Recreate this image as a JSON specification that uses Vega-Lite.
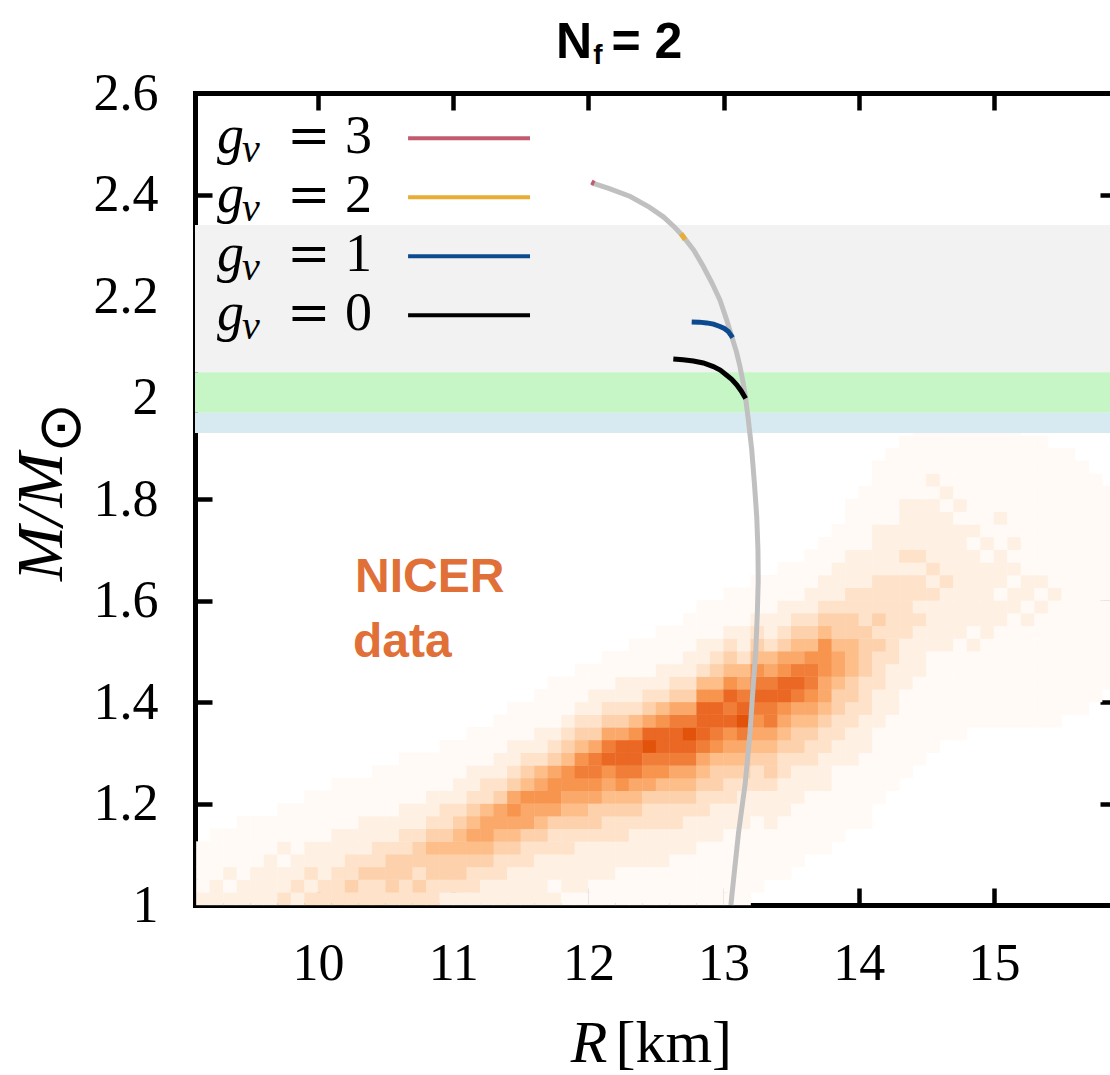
{
"$schema":"https://vega.github.io/schema/vega-lite/v6.json",
"width":915,"height":812,"autosize":"none",
"padding":{"left":195,"top":93,"right":0,"bottom":170},
"background":"white",
"config":{"view":{"stroke":null},"axis":{"grid":false,"zindex":1,"domainColor":"black","domainWidth":5,"domainCap":"square","tickColor":"black","tickWidth":4.5,"labelColor":"black","labelFont":"Liberation Serif","labelFontSize":52,"labelFlush":false,"labelOverlap":false,"labelBound":false}},
"datasets":{
"cells":[
{"r":9.1,"m":1,"d":2},{"r":9.1,"m":1.025,"d":1},{"r":9.1,"m":1.05,"d":1},{"r":9.1,"m":1.075,"d":1},{"r":9.1,"m":1.1,"d":1},
{"r":9.2,"m":1,"d":2},{"r":9.2,"m":1.025,"d":2},{"r":9.2,"m":1.05,"d":1},{"r":9.2,"m":1.075,"d":1},{"r":9.2,"m":1.1,"d":1},{"r":9.2,"m":1.125,"d":1},
{"r":9.3,"m":1,"d":2},{"r":9.3,"m":1.025,"d":1},{"r":9.3,"m":1.05,"d":2},{"r":9.3,"m":1.075,"d":1},{"r":9.3,"m":1.1,"d":1},{"r":9.3,"m":1.125,"d":1},
{"r":9.4,"m":1,"d":2},{"r":9.4,"m":1.025,"d":2},{"r":9.4,"m":1.05,"d":1},{"r":9.4,"m":1.075,"d":1},{"r":9.4,"m":1.1,"d":1},{"r":9.4,"m":1.125,"d":1},{"r":9.4,"m":1.15,"d":1},
{"r":9.5,"m":1,"d":2},{"r":9.5,"m":1.025,"d":2},{"r":9.5,"m":1.05,"d":2},{"r":9.5,"m":1.075,"d":1},{"r":9.5,"m":1.1,"d":1},{"r":9.5,"m":1.125,"d":1},{"r":9.5,"m":1.15,"d":1},
{"r":9.6,"m":1,"d":2},{"r":9.6,"m":1.025,"d":2},{"r":9.6,"m":1.05,"d":2},{"r":9.6,"m":1.075,"d":2},{"r":9.6,"m":1.1,"d":1},{"r":9.6,"m":1.125,"d":1},{"r":9.6,"m":1.15,"d":1},
{"r":9.7,"m":1,"d":3},{"r":9.7,"m":1.025,"d":2},{"r":9.7,"m":1.05,"d":2},{"r":9.7,"m":1.075,"d":1},{"r":9.7,"m":1.1,"d":2},{"r":9.7,"m":1.125,"d":1},{"r":9.7,"m":1.15,"d":1},{"r":9.7,"m":1.175,"d":1},
{"r":9.8,"m":1,"d":2},{"r":9.8,"m":1.025,"d":3},{"r":9.8,"m":1.05,"d":2},{"r":9.8,"m":1.075,"d":2},{"r":9.8,"m":1.1,"d":1},{"r":9.8,"m":1.125,"d":1},{"r":9.8,"m":1.15,"d":1},{"r":9.8,"m":1.175,"d":1},
{"r":9.9,"m":1,"d":3},{"r":9.9,"m":1.025,"d":2},{"r":9.9,"m":1.05,"d":3},{"r":9.9,"m":1.075,"d":2},{"r":9.9,"m":1.1,"d":2},{"r":9.9,"m":1.125,"d":1},{"r":9.9,"m":1.15,"d":1},{"r":9.9,"m":1.175,"d":1},{"r":9.9,"m":1.2,"d":1},
{"r":10,"m":1,"d":3},{"r":10,"m":1.025,"d":3},{"r":10,"m":1.05,"d":2},{"r":10,"m":1.075,"d":2},{"r":10,"m":1.1,"d":2},{"r":10,"m":1.125,"d":1},{"r":10,"m":1.15,"d":1},{"r":10,"m":1.175,"d":1},{"r":10,"m":1.2,"d":1},
{"r":10.1,"m":1,"d":3},{"r":10.1,"m":1.025,"d":3},{"r":10.1,"m":1.05,"d":3},{"r":10.1,"m":1.075,"d":2},{"r":10.1,"m":1.1,"d":2},{"r":10.1,"m":1.125,"d":2},{"r":10.1,"m":1.15,"d":1},{"r":10.1,"m":1.175,"d":1},{"r":10.1,"m":1.2,"d":1},{"r":10.1,"m":1.225,"d":1},
{"r":10.2,"m":1,"d":3},{"r":10.2,"m":1.025,"d":4},{"r":10.2,"m":1.05,"d":3},{"r":10.2,"m":1.075,"d":3},{"r":10.2,"m":1.1,"d":2},{"r":10.2,"m":1.125,"d":2},{"r":10.2,"m":1.15,"d":1},{"r":10.2,"m":1.175,"d":1},{"r":10.2,"m":1.2,"d":1},{"r":10.2,"m":1.225,"d":1},
{"r":10.3,"m":1,"d":3},{"r":10.3,"m":1.025,"d":3},{"r":10.3,"m":1.05,"d":4},{"r":10.3,"m":1.075,"d":3},{"r":10.3,"m":1.1,"d":2},{"r":10.3,"m":1.125,"d":2},{"r":10.3,"m":1.15,"d":2},{"r":10.3,"m":1.175,"d":1},{"r":10.3,"m":1.2,"d":1},{"r":10.3,"m":1.225,"d":1},
{"r":10.4,"m":1,"d":3},{"r":10.4,"m":1.025,"d":3},{"r":10.4,"m":1.05,"d":4},{"r":10.4,"m":1.075,"d":3},{"r":10.4,"m":1.1,"d":3},{"r":10.4,"m":1.125,"d":2},{"r":10.4,"m":1.15,"d":2},{"r":10.4,"m":1.175,"d":1},{"r":10.4,"m":1.2,"d":1},{"r":10.4,"m":1.225,"d":1},{"r":10.4,"m":1.25,"d":1},
{"r":10.5,"m":1,"d":3},{"r":10.5,"m":1.025,"d":4},{"r":10.5,"m":1.05,"d":4},{"r":10.5,"m":1.075,"d":4},{"r":10.5,"m":1.1,"d":3},{"r":10.5,"m":1.125,"d":2},{"r":10.5,"m":1.15,"d":2},{"r":10.5,"m":1.175,"d":1},{"r":10.5,"m":1.2,"d":1},{"r":10.5,"m":1.225,"d":1},{"r":10.5,"m":1.25,"d":1},
{"r":10.6,"m":1,"d":3},{"r":10.6,"m":1.025,"d":3},{"r":10.6,"m":1.05,"d":4},{"r":10.6,"m":1.075,"d":4},{"r":10.6,"m":1.1,"d":3},{"r":10.6,"m":1.125,"d":3},{"r":10.6,"m":1.15,"d":2},{"r":10.6,"m":1.175,"d":2},{"r":10.6,"m":1.2,"d":1},{"r":10.6,"m":1.225,"d":1},{"r":10.6,"m":1.25,"d":1},{"r":10.6,"m":1.275,"d":1},
{"r":10.7,"m":1,"d":3},{"r":10.7,"m":1.025,"d":4},{"r":10.7,"m":1.05,"d":3},{"r":10.7,"m":1.075,"d":4},{"r":10.7,"m":1.1,"d":4},{"r":10.7,"m":1.125,"d":3},{"r":10.7,"m":1.15,"d":2},{"r":10.7,"m":1.175,"d":2},{"r":10.7,"m":1.2,"d":1},{"r":10.7,"m":1.225,"d":1},{"r":10.7,"m":1.25,"d":1},{"r":10.7,"m":1.275,"d":1},
{"r":10.8,"m":1,"d":3},{"r":10.8,"m":1.025,"d":3},{"r":10.8,"m":1.05,"d":4},{"r":10.8,"m":1.075,"d":4},{"r":10.8,"m":1.1,"d":5},{"r":10.8,"m":1.125,"d":4},{"r":10.8,"m":1.15,"d":3},{"r":10.8,"m":1.175,"d":2},{"r":10.8,"m":1.2,"d":2},{"r":10.8,"m":1.225,"d":1},{"r":10.8,"m":1.25,"d":1},{"r":10.8,"m":1.275,"d":1},
{"r":10.9,"m":1,"d":2},{"r":10.9,"m":1.025,"d":3},{"r":10.9,"m":1.05,"d":4},{"r":10.9,"m":1.075,"d":4},{"r":10.9,"m":1.1,"d":5},{"r":10.9,"m":1.125,"d":4},{"r":10.9,"m":1.15,"d":3},{"r":10.9,"m":1.175,"d":3},{"r":10.9,"m":1.2,"d":2},{"r":10.9,"m":1.225,"d":1},{"r":10.9,"m":1.25,"d":1},{"r":10.9,"m":1.275,"d":1},{"r":10.9,"m":1.3,"d":1},
{"r":11,"m":1,"d":2},{"r":11,"m":1.025,"d":3},{"r":11,"m":1.05,"d":4},{"r":11,"m":1.075,"d":4},{"r":11,"m":1.1,"d":5},{"r":11,"m":1.125,"d":5},{"r":11,"m":1.15,"d":4},{"r":11,"m":1.175,"d":3},{"r":11,"m":1.2,"d":2},{"r":11,"m":1.225,"d":2},{"r":11,"m":1.25,"d":1},{"r":11,"m":1.275,"d":1},{"r":11,"m":1.3,"d":1},
{"r":11.1,"m":1,"d":2},{"r":11.1,"m":1.025,"d":3},{"r":11.1,"m":1.05,"d":3},{"r":11.1,"m":1.075,"d":4},{"r":11.1,"m":1.1,"d":5},{"r":11.1,"m":1.125,"d":6},{"r":11.1,"m":1.15,"d":5},{"r":11.1,"m":1.175,"d":4},{"r":11.1,"m":1.2,"d":3},{"r":11.1,"m":1.225,"d":2},{"r":11.1,"m":1.25,"d":2},{"r":11.1,"m":1.275,"d":1},{"r":11.1,"m":1.3,"d":1},{"r":11.1,"m":1.325,"d":1},
{"r":11.2,"m":1,"d":2},{"r":11.2,"m":1.025,"d":2},{"r":11.2,"m":1.05,"d":3},{"r":11.2,"m":1.075,"d":4},{"r":11.2,"m":1.1,"d":5},{"r":11.2,"m":1.125,"d":6},{"r":11.2,"m":1.15,"d":6},{"r":11.2,"m":1.175,"d":5},{"r":11.2,"m":1.2,"d":3},{"r":11.2,"m":1.225,"d":3},{"r":11.2,"m":1.25,"d":2},{"r":11.2,"m":1.275,"d":1},{"r":11.2,"m":1.3,"d":1},{"r":11.2,"m":1.325,"d":1},
{"r":11.3,"m":1,"d":2},{"r":11.3,"m":1.025,"d":2},{"r":11.3,"m":1.05,"d":3},{"r":11.3,"m":1.075,"d":3},{"r":11.3,"m":1.1,"d":4},{"r":11.3,"m":1.125,"d":5},{"r":11.3,"m":1.15,"d":6},{"r":11.3,"m":1.175,"d":6},{"r":11.3,"m":1.2,"d":4},{"r":11.3,"m":1.225,"d":3},{"r":11.3,"m":1.25,"d":2},{"r":11.3,"m":1.275,"d":2},{"r":11.3,"m":1.3,"d":1},{"r":11.3,"m":1.325,"d":1},{"r":11.3,"m":1.35,"d":1},
{"r":11.4,"m":1,"d":2},{"r":11.4,"m":1.025,"d":2},{"r":11.4,"m":1.05,"d":2},{"r":11.4,"m":1.075,"d":3},{"r":11.4,"m":1.1,"d":4},{"r":11.4,"m":1.125,"d":5},{"r":11.4,"m":1.15,"d":6},{"r":11.4,"m":1.175,"d":7},{"r":11.4,"m":1.2,"d":6},{"r":11.4,"m":1.225,"d":4},{"r":11.4,"m":1.25,"d":3},{"r":11.4,"m":1.275,"d":2},{"r":11.4,"m":1.3,"d":2},{"r":11.4,"m":1.325,"d":1},{"r":11.4,"m":1.35,"d":1},{"r":11.4,"m":1.375,"d":1},
{"r":11.5,"m":1,"d":2},{"r":11.5,"m":1.025,"d":2},{"r":11.5,"m":1.05,"d":2},{"r":11.5,"m":1.075,"d":3},{"r":11.5,"m":1.1,"d":3},{"r":11.5,"m":1.125,"d":4},{"r":11.5,"m":1.15,"d":6},{"r":11.5,"m":1.175,"d":6},{"r":11.5,"m":1.2,"d":7},{"r":11.5,"m":1.225,"d":5},{"r":11.5,"m":1.25,"d":4},{"r":11.5,"m":1.275,"d":3},{"r":11.5,"m":1.3,"d":2},{"r":11.5,"m":1.325,"d":1},{"r":11.5,"m":1.35,"d":1},{"r":11.5,"m":1.375,"d":1},
{"r":11.6,"m":1,"d":2},{"r":11.6,"m":1.025,"d":2},{"r":11.6,"m":1.05,"d":2},{"r":11.6,"m":1.075,"d":2},{"r":11.6,"m":1.1,"d":3},{"r":11.6,"m":1.125,"d":4},{"r":11.6,"m":1.15,"d":5},{"r":11.6,"m":1.175,"d":6},{"r":11.6,"m":1.2,"d":7},{"r":11.6,"m":1.225,"d":6},{"r":11.6,"m":1.25,"d":5},{"r":11.6,"m":1.275,"d":3},{"r":11.6,"m":1.3,"d":2},{"r":11.6,"m":1.325,"d":2},{"r":11.6,"m":1.35,"d":1},{"r":11.6,"m":1.375,"d":1},{"r":11.6,"m":1.4,"d":1},
{"r":11.7,"m":1,"d":2},{"r":11.7,"m":1.025,"d":1},{"r":11.7,"m":1.05,"d":2},{"r":11.7,"m":1.075,"d":2},{"r":11.7,"m":1.1,"d":3},{"r":11.7,"m":1.125,"d":3},{"r":11.7,"m":1.15,"d":4},{"r":11.7,"m":1.175,"d":6},{"r":11.7,"m":1.2,"d":7},{"r":11.7,"m":1.225,"d":7},{"r":11.7,"m":1.25,"d":6},{"r":11.7,"m":1.275,"d":4},{"r":11.7,"m":1.3,"d":3},{"r":11.7,"m":1.325,"d":2},{"r":11.7,"m":1.35,"d":1},{"r":11.7,"m":1.375,"d":1},{"r":11.7,"m":1.4,"d":1},{"r":11.7,"m":1.425,"d":1},
{"r":11.8,"m":1,"d":1},{"r":11.8,"m":1.025,"d":2},{"r":11.8,"m":1.05,"d":2},{"r":11.8,"m":1.075,"d":2},{"r":11.8,"m":1.1,"d":3},{"r":11.8,"m":1.125,"d":3},{"r":11.8,"m":1.15,"d":4},{"r":11.8,"m":1.175,"d":5},{"r":11.8,"m":1.2,"d":6},{"r":11.8,"m":1.225,"d":7},{"r":11.8,"m":1.25,"d":7},{"r":11.8,"m":1.275,"d":5},{"r":11.8,"m":1.3,"d":4},{"r":11.8,"m":1.325,"d":3},{"r":11.8,"m":1.35,"d":2},{"r":11.8,"m":1.375,"d":1},{"r":11.8,"m":1.4,"d":1},{"r":11.8,"m":1.425,"d":1},
{"r":11.9,"m":1,"d":1},{"r":11.9,"m":1.025,"d":2},{"r":11.9,"m":1.05,"d":2},{"r":11.9,"m":1.075,"d":2},{"r":11.9,"m":1.1,"d":2},{"r":11.9,"m":1.125,"d":3},{"r":11.9,"m":1.15,"d":4},{"r":11.9,"m":1.175,"d":5},{"r":11.9,"m":1.2,"d":6},{"r":11.9,"m":1.225,"d":7},{"r":11.9,"m":1.25,"d":8},{"r":11.9,"m":1.275,"d":7},{"r":11.9,"m":1.3,"d":5},{"r":11.9,"m":1.325,"d":4},{"r":11.9,"m":1.35,"d":3},{"r":11.9,"m":1.375,"d":2},{"r":11.9,"m":1.4,"d":1},{"r":11.9,"m":1.425,"d":1},{"r":11.9,"m":1.45,"d":1},
{"r":12,"m":1,"d":1},{"r":12,"m":1.025,"d":1},{"r":12,"m":1.05,"d":2},{"r":12,"m":1.075,"d":2},{"r":12,"m":1.1,"d":2},{"r":12,"m":1.125,"d":3},{"r":12,"m":1.15,"d":4},{"r":12,"m":1.175,"d":4},{"r":12,"m":1.2,"d":6},{"r":12,"m":1.225,"d":7},{"r":12,"m":1.25,"d":8},{"r":12,"m":1.275,"d":8},{"r":12,"m":1.3,"d":6},{"r":12,"m":1.325,"d":4},{"r":12,"m":1.35,"d":3},{"r":12,"m":1.375,"d":2},{"r":12,"m":1.4,"d":2},{"r":12,"m":1.425,"d":1},{"r":12,"m":1.45,"d":1},
{"r":12.1,"m":1,"d":1},{"r":12.1,"m":1.025,"d":1},{"r":12.1,"m":1.05,"d":2},{"r":12.1,"m":1.075,"d":2},{"r":12.1,"m":1.1,"d":2},{"r":12.1,"m":1.125,"d":3},{"r":12.1,"m":1.15,"d":3},{"r":12.1,"m":1.175,"d":4},{"r":12.1,"m":1.2,"d":5},{"r":12.1,"m":1.225,"d":6},{"r":12.1,"m":1.25,"d":7},{"r":12.1,"m":1.275,"d":9},{"r":12.1,"m":1.3,"d":8},{"r":12.1,"m":1.325,"d":6},{"r":12.1,"m":1.35,"d":4},{"r":12.1,"m":1.375,"d":3},{"r":12.1,"m":1.4,"d":2},{"r":12.1,"m":1.425,"d":1},{"r":12.1,"m":1.45,"d":1},{"r":12.1,"m":1.475,"d":1},
{"r":12.2,"m":1,"d":1},{"r":12.2,"m":1.025,"d":1},{"r":12.2,"m":1.05,"d":1},{"r":12.2,"m":1.075,"d":2},{"r":12.2,"m":1.1,"d":2},{"r":12.2,"m":1.125,"d":3},{"r":12.2,"m":1.15,"d":3},{"r":12.2,"m":1.175,"d":4},{"r":12.2,"m":1.2,"d":5},{"r":12.2,"m":1.225,"d":7},{"r":12.2,"m":1.25,"d":8},{"r":12.2,"m":1.275,"d":9},{"r":12.2,"m":1.3,"d":9},{"r":12.2,"m":1.325,"d":6},{"r":12.2,"m":1.35,"d":4},{"r":12.2,"m":1.375,"d":3},{"r":12.2,"m":1.4,"d":2},{"r":12.2,"m":1.425,"d":2},{"r":12.2,"m":1.45,"d":1},{"r":12.2,"m":1.475,"d":1},
{"r":12.3,"m":1,"d":1},{"r":12.3,"m":1.025,"d":1},{"r":12.3,"m":1.05,"d":1},{"r":12.3,"m":1.075,"d":2},{"r":12.3,"m":1.1,"d":2},{"r":12.3,"m":1.125,"d":2},{"r":12.3,"m":1.15,"d":3},{"r":12.3,"m":1.175,"d":4},{"r":12.3,"m":1.2,"d":5},{"r":12.3,"m":1.225,"d":6},{"r":12.3,"m":1.25,"d":8},{"r":12.3,"m":1.275,"d":9},{"r":12.3,"m":1.3,"d":9},{"r":12.3,"m":1.325,"d":7},{"r":12.3,"m":1.35,"d":5},{"r":12.3,"m":1.375,"d":3},{"r":12.3,"m":1.4,"d":2},{"r":12.3,"m":1.425,"d":2},{"r":12.3,"m":1.45,"d":1},{"r":12.3,"m":1.475,"d":1},{"r":12.3,"m":1.5,"d":1},
{"r":12.4,"m":1,"d":1},{"r":12.4,"m":1.025,"d":1},{"r":12.4,"m":1.05,"d":1},{"r":12.4,"m":1.075,"d":2},{"r":12.4,"m":1.1,"d":2},{"r":12.4,"m":1.125,"d":2},{"r":12.4,"m":1.15,"d":3},{"r":12.4,"m":1.175,"d":3},{"r":12.4,"m":1.2,"d":4},{"r":12.4,"m":1.225,"d":6},{"r":12.4,"m":1.25,"d":7},{"r":12.4,"m":1.275,"d":8},{"r":12.4,"m":1.3,"d":10},{"r":12.4,"m":1.325,"d":9},{"r":12.4,"m":1.35,"d":6},{"r":12.4,"m":1.375,"d":4},{"r":12.4,"m":1.4,"d":3},{"r":12.4,"m":1.425,"d":2},{"r":12.4,"m":1.45,"d":1},{"r":12.4,"m":1.475,"d":1},{"r":12.4,"m":1.5,"d":1},
{"r":12.5,"m":1,"d":1},{"r":12.5,"m":1.025,"d":1},{"r":12.5,"m":1.05,"d":1},{"r":12.5,"m":1.075,"d":2},{"r":12.5,"m":1.1,"d":2},{"r":12.5,"m":1.125,"d":2},{"r":12.5,"m":1.15,"d":3},{"r":12.5,"m":1.175,"d":3},{"r":12.5,"m":1.2,"d":4},{"r":12.5,"m":1.225,"d":5},{"r":12.5,"m":1.25,"d":7},{"r":12.5,"m":1.275,"d":8},{"r":12.5,"m":1.3,"d":9},{"r":12.5,"m":1.325,"d":9},{"r":12.5,"m":1.35,"d":7},{"r":12.5,"m":1.375,"d":5},{"r":12.5,"m":1.4,"d":3},{"r":12.5,"m":1.425,"d":2},{"r":12.5,"m":1.45,"d":2},{"r":12.5,"m":1.475,"d":1},{"r":12.5,"m":1.5,"d":1},{"r":12.5,"m":1.525,"d":1},
{"r":12.6,"m":1,"d":1},{"r":12.6,"m":1.025,"d":1},{"r":12.6,"m":1.05,"d":1},{"r":12.6,"m":1.075,"d":1},{"r":12.6,"m":1.1,"d":2},{"r":12.6,"m":1.125,"d":2},{"r":12.6,"m":1.15,"d":3},{"r":12.6,"m":1.175,"d":3},{"r":12.6,"m":1.2,"d":4},{"r":12.6,"m":1.225,"d":5},{"r":12.6,"m":1.25,"d":6},{"r":12.6,"m":1.275,"d":8},{"r":12.6,"m":1.3,"d":9},{"r":12.6,"m":1.325,"d":9},{"r":12.6,"m":1.35,"d":8},{"r":12.6,"m":1.375,"d":6},{"r":12.6,"m":1.4,"d":4},{"r":12.6,"m":1.425,"d":3},{"r":12.6,"m":1.45,"d":2},{"r":12.6,"m":1.475,"d":1},{"r":12.6,"m":1.5,"d":1},{"r":12.6,"m":1.525,"d":1},
{"r":12.7,"m":1,"d":1},{"r":12.7,"m":1.025,"d":1},{"r":12.7,"m":1.05,"d":1},{"r":12.7,"m":1.075,"d":1},{"r":12.7,"m":1.1,"d":2},{"r":12.7,"m":1.125,"d":2},{"r":12.7,"m":1.15,"d":2},{"r":12.7,"m":1.175,"d":3},{"r":12.7,"m":1.2,"d":4},{"r":12.7,"m":1.225,"d":5},{"r":12.7,"m":1.25,"d":6},{"r":12.7,"m":1.275,"d":8},{"r":12.7,"m":1.3,"d":9},{"r":12.7,"m":1.325,"d":10},{"r":12.7,"m":1.35,"d":8},{"r":12.7,"m":1.375,"d":6},{"r":12.7,"m":1.4,"d":4},{"r":12.7,"m":1.425,"d":3},{"r":12.7,"m":1.45,"d":2},{"r":12.7,"m":1.475,"d":2},{"r":12.7,"m":1.5,"d":1},{"r":12.7,"m":1.525,"d":1},{"r":12.7,"m":1.55,"d":1},
{"r":12.8,"m":1,"d":1},{"r":12.8,"m":1.025,"d":1},{"r":12.8,"m":1.05,"d":1},{"r":12.8,"m":1.075,"d":1},{"r":12.8,"m":1.1,"d":1},{"r":12.8,"m":1.125,"d":2},{"r":12.8,"m":1.15,"d":2},{"r":12.8,"m":1.175,"d":3},{"r":12.8,"m":1.2,"d":3},{"r":12.8,"m":1.225,"d":4},{"r":12.8,"m":1.25,"d":5},{"r":12.8,"m":1.275,"d":6},{"r":12.8,"m":1.3,"d":8},{"r":12.8,"m":1.325,"d":9},{"r":12.8,"m":1.35,"d":9},{"r":12.8,"m":1.375,"d":9},{"r":12.8,"m":1.4,"d":7},{"r":12.8,"m":1.425,"d":5},{"r":12.8,"m":1.45,"d":3},{"r":12.8,"m":1.475,"d":2},{"r":12.8,"m":1.5,"d":2},{"r":12.8,"m":1.525,"d":1},{"r":12.8,"m":1.55,"d":1},{"r":12.8,"m":1.575,"d":1},
{"r":12.9,"m":1,"d":1},{"r":12.9,"m":1.025,"d":1},{"r":12.9,"m":1.05,"d":1},{"r":12.9,"m":1.075,"d":1},{"r":12.9,"m":1.1,"d":1},{"r":12.9,"m":1.125,"d":2},{"r":12.9,"m":1.15,"d":2},{"r":12.9,"m":1.175,"d":2},{"r":12.9,"m":1.2,"d":3},{"r":12.9,"m":1.225,"d":4},{"r":12.9,"m":1.25,"d":4},{"r":12.9,"m":1.275,"d":5},{"r":12.9,"m":1.3,"d":7},{"r":12.9,"m":1.325,"d":8},{"r":12.9,"m":1.35,"d":9},{"r":12.9,"m":1.375,"d":9},{"r":12.9,"m":1.4,"d":7},{"r":12.9,"m":1.425,"d":5},{"r":12.9,"m":1.45,"d":4},{"r":12.9,"m":1.475,"d":3},{"r":12.9,"m":1.5,"d":2},{"r":12.9,"m":1.525,"d":1},{"r":12.9,"m":1.55,"d":1},{"r":12.9,"m":1.575,"d":1},
{"r":13,"m":1,"d":1},{"r":13,"m":1.025,"d":1},{"r":13,"m":1.05,"d":1},{"r":13,"m":1.075,"d":1},{"r":13,"m":1.1,"d":1},{"r":13,"m":1.125,"d":1},{"r":13,"m":1.15,"d":2},{"r":13,"m":1.175,"d":2},{"r":13,"m":1.2,"d":3},{"r":13,"m":1.225,"d":3},{"r":13,"m":1.25,"d":4},{"r":13,"m":1.275,"d":5},{"r":13,"m":1.3,"d":6},{"r":13,"m":1.325,"d":7},{"r":13,"m":1.35,"d":9},{"r":13,"m":1.375,"d":8},{"r":13,"m":1.4,"d":9},{"r":13,"m":1.425,"d":7},{"r":13,"m":1.45,"d":5},{"r":13,"m":1.475,"d":4},{"r":13,"m":1.5,"d":3},{"r":13,"m":1.525,"d":2},{"r":13,"m":1.55,"d":1},{"r":13,"m":1.575,"d":1},{"r":13,"m":1.6,"d":1},
{"r":13.1,"m":1,"d":1},{"r":13.1,"m":1.025,"d":1},{"r":13.1,"m":1.05,"d":1},{"r":13.1,"m":1.075,"d":1},{"r":13.1,"m":1.1,"d":1},{"r":13.1,"m":1.125,"d":1},{"r":13.1,"m":1.15,"d":2},{"r":13.1,"m":1.175,"d":2},{"r":13.1,"m":1.2,"d":2},{"r":13.1,"m":1.225,"d":3},{"r":13.1,"m":1.25,"d":4},{"r":13.1,"m":1.275,"d":5},{"r":13.1,"m":1.3,"d":6},{"r":13.1,"m":1.325,"d":8},{"r":13.1,"m":1.35,"d":10},{"r":13.1,"m":1.375,"d":9},{"r":13.1,"m":1.4,"d":8},{"r":13.1,"m":1.425,"d":6},{"r":13.1,"m":1.45,"d":5},{"r":13.1,"m":1.475,"d":3},{"r":13.1,"m":1.5,"d":2},{"r":13.1,"m":1.525,"d":2},{"r":13.1,"m":1.55,"d":1},{"r":13.1,"m":1.575,"d":1},{"r":13.1,"m":1.6,"d":1},
{"r":13.2,"m":1.025,"d":1},{"r":13.2,"m":1.05,"d":1},{"r":13.2,"m":1.075,"d":1},{"r":13.2,"m":1.1,"d":1},{"r":13.2,"m":1.125,"d":1},{"r":13.2,"m":1.15,"d":1},{"r":13.2,"m":1.175,"d":2},{"r":13.2,"m":1.2,"d":2},{"r":13.2,"m":1.225,"d":3},{"r":13.2,"m":1.25,"d":3},{"r":13.2,"m":1.275,"d":4},{"r":13.2,"m":1.3,"d":5},{"r":13.2,"m":1.325,"d":6},{"r":13.2,"m":1.35,"d":7},{"r":13.2,"m":1.375,"d":8},{"r":13.2,"m":1.4,"d":9},{"r":13.2,"m":1.425,"d":8},{"r":13.2,"m":1.45,"d":7},{"r":13.2,"m":1.475,"d":5},{"r":13.2,"m":1.5,"d":4},{"r":13.2,"m":1.525,"d":3},{"r":13.2,"m":1.55,"d":2},{"r":13.2,"m":1.575,"d":1},{"r":13.2,"m":1.6,"d":1},{"r":13.2,"m":1.625,"d":1},
{"r":13.3,"m":1.05,"d":1},{"r":13.3,"m":1.075,"d":1},{"r":13.3,"m":1.1,"d":1},{"r":13.3,"m":1.125,"d":1},{"r":13.3,"m":1.15,"d":2},{"r":13.3,"m":1.175,"d":2},{"r":13.3,"m":1.2,"d":2},{"r":13.3,"m":1.225,"d":3},{"r":13.3,"m":1.25,"d":4},{"r":13.3,"m":1.275,"d":4},{"r":13.3,"m":1.3,"d":5},{"r":13.3,"m":1.325,"d":6},{"r":13.3,"m":1.35,"d":8},{"r":13.3,"m":1.375,"d":8},{"r":13.3,"m":1.4,"d":9},{"r":13.3,"m":1.425,"d":8},{"r":13.3,"m":1.45,"d":6},{"r":13.3,"m":1.475,"d":5},{"r":13.3,"m":1.5,"d":3},{"r":13.3,"m":1.525,"d":2},{"r":13.3,"m":1.55,"d":2},{"r":13.3,"m":1.575,"d":1},{"r":13.3,"m":1.6,"d":1},{"r":13.3,"m":1.625,"d":1},
{"r":13.4,"m":1.05,"d":1},{"r":13.4,"m":1.075,"d":1},{"r":13.4,"m":1.1,"d":1},{"r":13.4,"m":1.125,"d":1},{"r":13.4,"m":1.15,"d":1},{"r":13.4,"m":1.175,"d":2},{"r":13.4,"m":1.2,"d":2},{"r":13.4,"m":1.225,"d":2},{"r":13.4,"m":1.25,"d":3},{"r":13.4,"m":1.275,"d":3},{"r":13.4,"m":1.3,"d":4},{"r":13.4,"m":1.325,"d":5},{"r":13.4,"m":1.35,"d":6},{"r":13.4,"m":1.375,"d":7},{"r":13.4,"m":1.4,"d":9},{"r":13.4,"m":1.425,"d":9},{"r":13.4,"m":1.45,"d":7},{"r":13.4,"m":1.475,"d":6},{"r":13.4,"m":1.5,"d":4},{"r":13.4,"m":1.525,"d":3},{"r":13.4,"m":1.55,"d":2},{"r":13.4,"m":1.575,"d":2},{"r":13.4,"m":1.6,"d":1},{"r":13.4,"m":1.625,"d":1},{"r":13.4,"m":1.65,"d":1},
{"r":13.5,"m":1.075,"d":1},{"r":13.5,"m":1.1,"d":1},{"r":13.5,"m":1.125,"d":1},{"r":13.5,"m":1.15,"d":1},{"r":13.5,"m":1.175,"d":1},{"r":13.5,"m":1.2,"d":2},{"r":13.5,"m":1.225,"d":2},{"r":13.5,"m":1.25,"d":2},{"r":13.5,"m":1.275,"d":3},{"r":13.5,"m":1.3,"d":4},{"r":13.5,"m":1.325,"d":4},{"r":13.5,"m":1.35,"d":5},{"r":13.5,"m":1.375,"d":6},{"r":13.5,"m":1.4,"d":8},{"r":13.5,"m":1.425,"d":9},{"r":13.5,"m":1.45,"d":8},{"r":13.5,"m":1.475,"d":6},{"r":13.5,"m":1.5,"d":5},{"r":13.5,"m":1.525,"d":4},{"r":13.5,"m":1.55,"d":3},{"r":13.5,"m":1.575,"d":2},{"r":13.5,"m":1.6,"d":1},{"r":13.5,"m":1.625,"d":1},{"r":13.5,"m":1.65,"d":1},
{"r":13.6,"m":1.1,"d":1},{"r":13.6,"m":1.125,"d":1},{"r":13.6,"m":1.15,"d":1},{"r":13.6,"m":1.175,"d":1},{"r":13.6,"m":1.2,"d":1},{"r":13.6,"m":1.225,"d":2},{"r":13.6,"m":1.25,"d":2},{"r":13.6,"m":1.275,"d":3},{"r":13.6,"m":1.3,"d":3},{"r":13.6,"m":1.325,"d":4},{"r":13.6,"m":1.35,"d":5},{"r":13.6,"m":1.375,"d":6},{"r":13.6,"m":1.4,"d":7},{"r":13.6,"m":1.425,"d":8},{"r":13.6,"m":1.45,"d":8},{"r":13.6,"m":1.475,"d":7},{"r":13.6,"m":1.5,"d":5},{"r":13.6,"m":1.525,"d":4},{"r":13.6,"m":1.55,"d":3},{"r":13.6,"m":1.575,"d":2},{"r":13.6,"m":1.6,"d":2},{"r":13.6,"m":1.625,"d":1},{"r":13.6,"m":1.65,"d":1},{"r":13.6,"m":1.675,"d":1},
{"r":13.7,"m":1.1,"d":1},{"r":13.7,"m":1.125,"d":1},{"r":13.7,"m":1.15,"d":1},{"r":13.7,"m":1.175,"d":1},{"r":13.7,"m":1.2,"d":1},{"r":13.7,"m":1.225,"d":2},{"r":13.7,"m":1.25,"d":2},{"r":13.7,"m":1.275,"d":2},{"r":13.7,"m":1.3,"d":3},{"r":13.7,"m":1.325,"d":3},{"r":13.7,"m":1.35,"d":4},{"r":13.7,"m":1.375,"d":5},{"r":13.7,"m":1.4,"d":6},{"r":13.7,"m":1.425,"d":6},{"r":13.7,"m":1.45,"d":7},{"r":13.7,"m":1.475,"d":7},{"r":13.7,"m":1.5,"d":7},{"r":13.7,"m":1.525,"d":5},{"r":13.7,"m":1.55,"d":4},{"r":13.7,"m":1.575,"d":3},{"r":13.7,"m":1.6,"d":2},{"r":13.7,"m":1.625,"d":2},{"r":13.7,"m":1.65,"d":1},{"r":13.7,"m":1.675,"d":1},{"r":13.7,"m":1.7,"d":1},
{"r":13.8,"m":1.125,"d":1},{"r":13.8,"m":1.15,"d":1},{"r":13.8,"m":1.175,"d":1},{"r":13.8,"m":1.2,"d":1},{"r":13.8,"m":1.225,"d":1},{"r":13.8,"m":1.25,"d":1},{"r":13.8,"m":1.275,"d":2},{"r":13.8,"m":1.3,"d":2},{"r":13.8,"m":1.325,"d":3},{"r":13.8,"m":1.35,"d":3},{"r":13.8,"m":1.375,"d":4},{"r":13.8,"m":1.4,"d":4},{"r":13.8,"m":1.425,"d":5},{"r":13.8,"m":1.45,"d":6},{"r":13.8,"m":1.475,"d":6},{"r":13.8,"m":1.5,"d":5},{"r":13.8,"m":1.525,"d":4},{"r":13.8,"m":1.55,"d":4},{"r":13.8,"m":1.575,"d":3},{"r":13.8,"m":1.6,"d":2},{"r":13.8,"m":1.625,"d":2},{"r":13.8,"m":1.65,"d":2},{"r":13.8,"m":1.675,"d":1},{"r":13.8,"m":1.7,"d":1},{"r":13.8,"m":1.725,"d":1},
{"r":13.9,"m":1.15,"d":1},{"r":13.9,"m":1.175,"d":1},{"r":13.9,"m":1.2,"d":1},{"r":13.9,"m":1.225,"d":1},{"r":13.9,"m":1.25,"d":1},{"r":13.9,"m":1.275,"d":2},{"r":13.9,"m":1.3,"d":2},{"r":13.9,"m":1.325,"d":2},{"r":13.9,"m":1.35,"d":3},{"r":13.9,"m":1.375,"d":3},{"r":13.9,"m":1.4,"d":4},{"r":13.9,"m":1.425,"d":4},{"r":13.9,"m":1.45,"d":5},{"r":13.9,"m":1.475,"d":5},{"r":13.9,"m":1.5,"d":5},{"r":13.9,"m":1.525,"d":4},{"r":13.9,"m":1.55,"d":4},{"r":13.9,"m":1.575,"d":3},{"r":13.9,"m":1.6,"d":3},{"r":13.9,"m":1.625,"d":2},{"r":13.9,"m":1.65,"d":2},{"r":13.9,"m":1.675,"d":2},{"r":13.9,"m":1.7,"d":1},{"r":13.9,"m":1.725,"d":1},{"r":13.9,"m":1.75,"d":1},{"r":13.9,"m":1.775,"d":1},
{"r":14,"m":1.15,"d":1},{"r":14,"m":1.175,"d":1},{"r":14,"m":1.2,"d":1},{"r":14,"m":1.225,"d":1},{"r":14,"m":1.25,"d":1},{"r":14,"m":1.275,"d":1},{"r":14,"m":1.3,"d":2},{"r":14,"m":1.325,"d":2},{"r":14,"m":1.35,"d":2},{"r":14,"m":1.375,"d":3},{"r":14,"m":1.4,"d":3},{"r":14,"m":1.425,"d":3},{"r":14,"m":1.45,"d":4},{"r":14,"m":1.475,"d":4},{"r":14,"m":1.5,"d":4},{"r":14,"m":1.525,"d":4},{"r":14,"m":1.55,"d":3},{"r":14,"m":1.575,"d":3},{"r":14,"m":1.6,"d":3},{"r":14,"m":1.625,"d":2},{"r":14,"m":1.65,"d":2},{"r":14,"m":1.675,"d":2},{"r":14,"m":1.7,"d":1},{"r":14,"m":1.725,"d":1},{"r":14,"m":1.75,"d":1},{"r":14,"m":1.775,"d":1},{"r":14,"m":1.8,"d":1},
{"r":14.1,"m":1.2,"d":1},{"r":14.1,"m":1.225,"d":1},{"r":14.1,"m":1.25,"d":1},{"r":14.1,"m":1.275,"d":1},{"r":14.1,"m":1.3,"d":1},{"r":14.1,"m":1.325,"d":1},{"r":14.1,"m":1.35,"d":2},{"r":14.1,"m":1.375,"d":2},{"r":14.1,"m":1.4,"d":2},{"r":14.1,"m":1.425,"d":3},{"r":14.1,"m":1.45,"d":3},{"r":14.1,"m":1.475,"d":3},{"r":14.1,"m":1.5,"d":4},{"r":14.1,"m":1.525,"d":3},{"r":14.1,"m":1.55,"d":4},{"r":14.1,"m":1.575,"d":3},{"r":14.1,"m":1.6,"d":3},{"r":14.1,"m":1.625,"d":3},{"r":14.1,"m":1.65,"d":2},{"r":14.1,"m":1.675,"d":2},{"r":14.1,"m":1.7,"d":2},{"r":14.1,"m":1.725,"d":2},{"r":14.1,"m":1.75,"d":1},{"r":14.1,"m":1.775,"d":1},{"r":14.1,"m":1.8,"d":1},{"r":14.1,"m":1.825,"d":1},{"r":14.1,"m":1.85,"d":1},
{"r":14.2,"m":1.225,"d":1},{"r":14.2,"m":1.25,"d":1},{"r":14.2,"m":1.275,"d":1},{"r":14.2,"m":1.3,"d":1},{"r":14.2,"m":1.325,"d":1},{"r":14.2,"m":1.35,"d":1},{"r":14.2,"m":1.375,"d":2},{"r":14.2,"m":1.4,"d":2},{"r":14.2,"m":1.425,"d":2},{"r":14.2,"m":1.45,"d":2},{"r":14.2,"m":1.475,"d":3},{"r":14.2,"m":1.5,"d":3},{"r":14.2,"m":1.525,"d":3},{"r":14.2,"m":1.55,"d":3},{"r":14.2,"m":1.575,"d":3},{"r":14.2,"m":1.6,"d":3},{"r":14.2,"m":1.625,"d":3},{"r":14.2,"m":1.65,"d":2},{"r":14.2,"m":1.675,"d":2},{"r":14.2,"m":1.7,"d":2},{"r":14.2,"m":1.725,"d":2},{"r":14.2,"m":1.75,"d":1},{"r":14.2,"m":1.775,"d":1},{"r":14.2,"m":1.8,"d":1},{"r":14.2,"m":1.825,"d":1},{"r":14.2,"m":1.85,"d":1},{"r":14.2,"m":1.875,"d":1},
{"r":14.3,"m":1.25,"d":1},{"r":14.3,"m":1.275,"d":1},{"r":14.3,"m":1.3,"d":1},{"r":14.3,"m":1.325,"d":1},{"r":14.3,"m":1.35,"d":1},{"r":14.3,"m":1.375,"d":1},{"r":14.3,"m":1.4,"d":1},{"r":14.3,"m":1.425,"d":2},{"r":14.3,"m":1.45,"d":2},{"r":14.3,"m":1.475,"d":2},{"r":14.3,"m":1.5,"d":2},{"r":14.3,"m":1.525,"d":3},{"r":14.3,"m":1.55,"d":3},{"r":14.3,"m":1.575,"d":3},{"r":14.3,"m":1.6,"d":3},{"r":14.3,"m":1.625,"d":3},{"r":14.3,"m":1.65,"d":2},{"r":14.3,"m":1.675,"d":3},{"r":14.3,"m":1.7,"d":2},{"r":14.3,"m":1.725,"d":2},{"r":14.3,"m":1.75,"d":2},{"r":14.3,"m":1.775,"d":2},{"r":14.3,"m":1.8,"d":1},{"r":14.3,"m":1.825,"d":1},{"r":14.3,"m":1.85,"d":1},{"r":14.3,"m":1.875,"d":1},{"r":14.3,"m":1.9,"d":1},
{"r":14.4,"m":1.275,"d":1},{"r":14.4,"m":1.3,"d":1},{"r":14.4,"m":1.325,"d":1},{"r":14.4,"m":1.35,"d":1},{"r":14.4,"m":1.375,"d":1},{"r":14.4,"m":1.4,"d":1},{"r":14.4,"m":1.425,"d":1},{"r":14.4,"m":1.45,"d":2},{"r":14.4,"m":1.475,"d":2},{"r":14.4,"m":1.5,"d":2},{"r":14.4,"m":1.525,"d":2},{"r":14.4,"m":1.55,"d":3},{"r":14.4,"m":1.575,"d":2},{"r":14.4,"m":1.6,"d":3},{"r":14.4,"m":1.625,"d":3},{"r":14.4,"m":1.65,"d":2},{"r":14.4,"m":1.675,"d":3},{"r":14.4,"m":1.7,"d":2},{"r":14.4,"m":1.725,"d":2},{"r":14.4,"m":1.75,"d":2},{"r":14.4,"m":1.775,"d":2},{"r":14.4,"m":1.8,"d":1},{"r":14.4,"m":1.825,"d":1},{"r":14.4,"m":1.85,"d":1},{"r":14.4,"m":1.875,"d":1},{"r":14.4,"m":1.9,"d":1},{"r":14.4,"m":1.925,"d":1},
{"r":14.5,"m":1.3,"d":1},{"r":14.5,"m":1.325,"d":1},{"r":14.5,"m":1.35,"d":1},{"r":14.5,"m":1.375,"d":1},{"r":14.5,"m":1.4,"d":1},{"r":14.5,"m":1.425,"d":1},{"r":14.5,"m":1.45,"d":1},{"r":14.5,"m":1.475,"d":1},{"r":14.5,"m":1.5,"d":2},{"r":14.5,"m":1.525,"d":2},{"r":14.5,"m":1.55,"d":2},{"r":14.5,"m":1.575,"d":2},{"r":14.5,"m":1.6,"d":3},{"r":14.5,"m":1.625,"d":2},{"r":14.5,"m":1.65,"d":3},{"r":14.5,"m":1.675,"d":2},{"r":14.5,"m":1.7,"d":2},{"r":14.5,"m":1.725,"d":2},{"r":14.5,"m":1.75,"d":2},{"r":14.5,"m":1.775,"d":2},{"r":14.5,"m":1.8,"d":1},{"r":14.5,"m":1.825,"d":2},{"r":14.5,"m":1.85,"d":1},{"r":14.5,"m":1.875,"d":1},{"r":14.5,"m":1.9,"d":1},{"r":14.5,"m":1.925,"d":1},
{"r":14.6,"m":1.325,"d":1},{"r":14.6,"m":1.35,"d":1},{"r":14.6,"m":1.375,"d":1},{"r":14.6,"m":1.4,"d":1},{"r":14.6,"m":1.425,"d":1},{"r":14.6,"m":1.45,"d":1},{"r":14.6,"m":1.475,"d":1},{"r":14.6,"m":1.5,"d":2},{"r":14.6,"m":1.525,"d":2},{"r":14.6,"m":1.55,"d":2},{"r":14.6,"m":1.575,"d":2},{"r":14.6,"m":1.6,"d":2},{"r":14.6,"m":1.625,"d":3},{"r":14.6,"m":1.65,"d":2},{"r":14.6,"m":1.675,"d":2},{"r":14.6,"m":1.7,"d":2},{"r":14.6,"m":1.725,"d":2},{"r":14.6,"m":1.75,"d":2},{"r":14.6,"m":1.775,"d":1},{"r":14.6,"m":1.8,"d":2},{"r":14.6,"m":1.825,"d":1},{"r":14.6,"m":1.85,"d":1},{"r":14.6,"m":1.875,"d":1},{"r":14.6,"m":1.9,"d":1},{"r":14.6,"m":1.925,"d":1},
{"r":14.7,"m":1.325,"d":1},{"r":14.7,"m":1.35,"d":1},{"r":14.7,"m":1.375,"d":1},{"r":14.7,"m":1.4,"d":1},{"r":14.7,"m":1.425,"d":1},{"r":14.7,"m":1.45,"d":1},{"r":14.7,"m":1.475,"d":1},{"r":14.7,"m":1.5,"d":1},{"r":14.7,"m":1.525,"d":2},{"r":14.7,"m":1.55,"d":2},{"r":14.7,"m":1.575,"d":2},{"r":14.7,"m":1.6,"d":2},{"r":14.7,"m":1.625,"d":2},{"r":14.7,"m":1.65,"d":2},{"r":14.7,"m":1.675,"d":2},{"r":14.7,"m":1.7,"d":2},{"r":14.7,"m":1.725,"d":2},{"r":14.7,"m":1.75,"d":1},{"r":14.7,"m":1.775,"d":2},{"r":14.7,"m":1.8,"d":1},{"r":14.7,"m":1.825,"d":1},{"r":14.7,"m":1.85,"d":1},{"r":14.7,"m":1.875,"d":1},{"r":14.7,"m":1.9,"d":1},{"r":14.7,"m":1.925,"d":1},
{"r":14.8,"m":1.35,"d":1},{"r":14.8,"m":1.375,"d":1},{"r":14.8,"m":1.4,"d":1},{"r":14.8,"m":1.425,"d":1},{"r":14.8,"m":1.45,"d":1},{"r":14.8,"m":1.475,"d":1},{"r":14.8,"m":1.5,"d":2},{"r":14.8,"m":1.525,"d":1},{"r":14.8,"m":1.55,"d":2},{"r":14.8,"m":1.575,"d":2},{"r":14.8,"m":1.6,"d":2},{"r":14.8,"m":1.625,"d":2},{"r":14.8,"m":1.65,"d":2},{"r":14.8,"m":1.675,"d":2},{"r":14.8,"m":1.7,"d":1},{"r":14.8,"m":1.725,"d":2},{"r":14.8,"m":1.75,"d":1},{"r":14.8,"m":1.775,"d":1},{"r":14.8,"m":1.8,"d":1},{"r":14.8,"m":1.825,"d":1},{"r":14.8,"m":1.85,"d":1},{"r":14.8,"m":1.875,"d":1},{"r":14.8,"m":1.9,"d":1},{"r":14.8,"m":1.925,"d":1},
{"r":14.9,"m":1.35,"d":1},{"r":14.9,"m":1.375,"d":1},{"r":14.9,"m":1.4,"d":1},{"r":14.9,"m":1.425,"d":1},{"r":14.9,"m":1.45,"d":1},{"r":14.9,"m":1.475,"d":1},{"r":14.9,"m":1.5,"d":1},{"r":14.9,"m":1.525,"d":2},{"r":14.9,"m":1.55,"d":2},{"r":14.9,"m":1.575,"d":2},{"r":14.9,"m":1.6,"d":2},{"r":14.9,"m":1.625,"d":2},{"r":14.9,"m":1.65,"d":2},{"r":14.9,"m":1.675,"d":1},{"r":14.9,"m":1.7,"d":2},{"r":14.9,"m":1.725,"d":1},{"r":14.9,"m":1.75,"d":1},{"r":14.9,"m":1.775,"d":1},{"r":14.9,"m":1.8,"d":1},{"r":14.9,"m":1.825,"d":1},{"r":14.9,"m":1.85,"d":1},{"r":14.9,"m":1.875,"d":1},{"r":14.9,"m":1.9,"d":1},{"r":14.9,"m":1.925,"d":1},
{"r":15,"m":1.35,"d":1},{"r":15,"m":1.375,"d":1},{"r":15,"m":1.4,"d":1},{"r":15,"m":1.425,"d":1},{"r":15,"m":1.45,"d":1},{"r":15,"m":1.475,"d":1},{"r":15,"m":1.5,"d":1},{"r":15,"m":1.525,"d":1},{"r":15,"m":1.55,"d":2},{"r":15,"m":1.575,"d":2},{"r":15,"m":1.6,"d":1},{"r":15,"m":1.625,"d":2},{"r":15,"m":1.65,"d":2},{"r":15,"m":1.675,"d":2},{"r":15,"m":1.7,"d":1},{"r":15,"m":1.725,"d":1},{"r":15,"m":1.75,"d":2},{"r":15,"m":1.775,"d":1},{"r":15,"m":1.8,"d":1},{"r":15,"m":1.825,"d":1},{"r":15,"m":1.85,"d":1},{"r":15,"m":1.875,"d":1},{"r":15,"m":1.9,"d":1},{"r":15,"m":1.925,"d":1},
{"r":15.1,"m":1.35,"d":1},{"r":15.1,"m":1.375,"d":1},{"r":15.1,"m":1.4,"d":1},{"r":15.1,"m":1.425,"d":1},{"r":15.1,"m":1.45,"d":1},{"r":15.1,"m":1.475,"d":1},{"r":15.1,"m":1.5,"d":1},{"r":15.1,"m":1.525,"d":1},{"r":15.1,"m":1.55,"d":1},{"r":15.1,"m":1.575,"d":2},{"r":15.1,"m":1.6,"d":2},{"r":15.1,"m":1.625,"d":1},{"r":15.1,"m":1.65,"d":2},{"r":15.1,"m":1.675,"d":1},{"r":15.1,"m":1.7,"d":2},{"r":15.1,"m":1.725,"d":1},{"r":15.1,"m":1.75,"d":1},{"r":15.1,"m":1.775,"d":1},{"r":15.1,"m":1.8,"d":1},{"r":15.1,"m":1.825,"d":1},{"r":15.1,"m":1.85,"d":1},{"r":15.1,"m":1.875,"d":1},{"r":15.1,"m":1.9,"d":1},{"r":15.1,"m":1.925,"d":1},
{"r":15.2,"m":1.35,"d":1},{"r":15.2,"m":1.375,"d":1},{"r":15.2,"m":1.4,"d":1},{"r":15.2,"m":1.425,"d":1},{"r":15.2,"m":1.45,"d":1},{"r":15.2,"m":1.475,"d":1},{"r":15.2,"m":1.5,"d":1},{"r":15.2,"m":1.525,"d":1},{"r":15.2,"m":1.55,"d":2},{"r":15.2,"m":1.575,"d":1},{"r":15.2,"m":1.6,"d":2},{"r":15.2,"m":1.625,"d":2},{"r":15.2,"m":1.65,"d":1},{"r":15.2,"m":1.675,"d":1},{"r":15.2,"m":1.7,"d":1},{"r":15.2,"m":1.725,"d":1},{"r":15.2,"m":1.75,"d":1},{"r":15.2,"m":1.775,"d":1},{"r":15.2,"m":1.8,"d":1},{"r":15.2,"m":1.825,"d":1},{"r":15.2,"m":1.85,"d":1},{"r":15.2,"m":1.875,"d":1},{"r":15.2,"m":1.9,"d":1},
{"r":15.3,"m":1.35,"d":1},{"r":15.3,"m":1.375,"d":1},{"r":15.3,"m":1.4,"d":1},{"r":15.3,"m":1.425,"d":1},{"r":15.3,"m":1.45,"d":1},{"r":15.3,"m":1.475,"d":1},{"r":15.3,"m":1.5,"d":1},{"r":15.3,"m":1.525,"d":1},{"r":15.3,"m":1.55,"d":1},{"r":15.3,"m":1.575,"d":2},{"r":15.3,"m":1.6,"d":1},{"r":15.3,"m":1.625,"d":2},{"r":15.3,"m":1.65,"d":1},{"r":15.3,"m":1.675,"d":1},{"r":15.3,"m":1.7,"d":1},{"r":15.3,"m":1.725,"d":1},{"r":15.3,"m":1.75,"d":1},{"r":15.3,"m":1.775,"d":1},{"r":15.3,"m":1.8,"d":1},{"r":15.3,"m":1.825,"d":1},{"r":15.3,"m":1.85,"d":1},{"r":15.3,"m":1.875,"d":1},{"r":15.3,"m":1.9,"d":1},
{"r":15.4,"m":1.35,"d":1},{"r":15.4,"m":1.375,"d":1},{"r":15.4,"m":1.4,"d":1},{"r":15.4,"m":1.425,"d":1},{"r":15.4,"m":1.45,"d":1},{"r":15.4,"m":1.475,"d":1},{"r":15.4,"m":1.5,"d":1},{"r":15.4,"m":1.525,"d":1},{"r":15.4,"m":1.55,"d":1},{"r":15.4,"m":1.575,"d":1},{"r":15.4,"m":1.6,"d":2},{"r":15.4,"m":1.625,"d":1},{"r":15.4,"m":1.65,"d":1},{"r":15.4,"m":1.675,"d":1},{"r":15.4,"m":1.7,"d":1},{"r":15.4,"m":1.725,"d":1},{"r":15.4,"m":1.75,"d":1},{"r":15.4,"m":1.775,"d":1},{"r":15.4,"m":1.8,"d":1},{"r":15.4,"m":1.825,"d":1},{"r":15.4,"m":1.85,"d":1},{"r":15.4,"m":1.875,"d":1},
{"r":15.5,"m":1.375,"d":1},{"r":15.5,"m":1.4,"d":1},{"r":15.5,"m":1.425,"d":1},{"r":15.5,"m":1.45,"d":1},{"r":15.5,"m":1.475,"d":1},{"r":15.5,"m":1.5,"d":1},{"r":15.5,"m":1.525,"d":1},{"r":15.5,"m":1.55,"d":1},{"r":15.5,"m":1.575,"d":1},{"r":15.5,"m":1.6,"d":1},{"r":15.5,"m":1.625,"d":1},{"r":15.5,"m":1.65,"d":1},{"r":15.5,"m":1.675,"d":1},{"r":15.5,"m":1.7,"d":1},{"r":15.5,"m":1.725,"d":1},{"r":15.5,"m":1.75,"d":1},{"r":15.5,"m":1.775,"d":1},{"r":15.5,"m":1.8,"d":1},{"r":15.5,"m":1.825,"d":1},{"r":15.5,"m":1.85,"d":1},{"r":15.5,"m":1.875,"d":1},
{"r":15.6,"m":1.375,"d":1},{"r":15.6,"m":1.4,"d":1},{"r":15.6,"m":1.425,"d":1},{"r":15.6,"m":1.45,"d":1},{"r":15.6,"m":1.475,"d":1},{"r":15.6,"m":1.5,"d":1},{"r":15.6,"m":1.525,"d":1},{"r":15.6,"m":1.55,"d":1},{"r":15.6,"m":1.575,"d":1},{"r":15.6,"m":1.6,"d":1},{"r":15.6,"m":1.625,"d":1},{"r":15.6,"m":1.65,"d":1},{"r":15.6,"m":1.675,"d":1},{"r":15.6,"m":1.7,"d":1},{"r":15.6,"m":1.725,"d":1},{"r":15.6,"m":1.75,"d":1},{"r":15.6,"m":1.775,"d":1},{"r":15.6,"m":1.8,"d":1},{"r":15.6,"m":1.825,"d":1},{"r":15.6,"m":1.85,"d":1},
{"r":15.7,"m":1.4,"d":1},{"r":15.7,"m":1.425,"d":1},{"r":15.7,"m":1.45,"d":1},{"r":15.7,"m":1.475,"d":1},{"r":15.7,"m":1.5,"d":1},{"r":15.7,"m":1.525,"d":1},{"r":15.7,"m":1.55,"d":1},{"r":15.7,"m":1.575,"d":1},{"r":15.7,"m":1.6,"d":1},{"r":15.7,"m":1.625,"d":1},{"r":15.7,"m":1.65,"d":1},{"r":15.7,"m":1.675,"d":1},{"r":15.7,"m":1.7,"d":1},{"r":15.7,"m":1.725,"d":1},{"r":15.7,"m":1.75,"d":1},{"r":15.7,"m":1.775,"d":1},{"r":15.7,"m":1.8,"d":1},{"r":15.7,"m":1.825,"d":1},
{"r":15.8,"m":1.425,"d":1},{"r":15.8,"m":1.45,"d":1},{"r":15.8,"m":1.475,"d":1},{"r":15.8,"m":1.5,"d":1},{"r":15.8,"m":1.525,"d":1},{"r":15.8,"m":1.55,"d":1},{"r":15.8,"m":1.575,"d":1},{"r":15.8,"m":1.6,"d":1},{"r":15.8,"m":1.625,"d":1},{"r":15.8,"m":1.65,"d":1},{"r":15.8,"m":1.675,"d":1},{"r":15.8,"m":1.7,"d":1},{"r":15.8,"m":1.725,"d":1},{"r":15.8,"m":1.75,"d":1},{"r":15.8,"m":1.775,"d":1},{"r":15.8,"m":1.8,"d":1}
],
"mr":[
{"r":12.025,"m":2.423},{"r":12.15,"m":2.412},{"r":12.31,"m":2.396},{"r":12.45,"m":2.375},{"r":12.554,"m":2.356},{"r":12.64,"m":2.335},{"r":12.702,"m":2.317},{"r":12.78,"m":2.29},{"r":12.85,"m":2.258},{"r":12.915,"m":2.225},{"r":12.973,"m":2.192},{"r":13.02,"m":2.155},{"r":13.06,"m":2.12},{"r":13.095,"m":2.09},{"r":13.121,"m":2.061},{"r":13.14,"m":2.035},{"r":13.158,"m":2.008},{"r":13.183,"m":1.956},{"r":13.208,"m":1.897},{"r":13.228,"m":1.83},{"r":13.245,"m":1.765},{"r":13.254,"m":1.7},{"r":13.256,"m":1.64},{"r":13.25,"m":1.58},{"r":13.238,"m":1.5},{"r":13.22,"m":1.437},{"r":13.195,"m":1.339},{"r":13.16,"m":1.24},{"r":13.11,"m":1.142},{"r":13.06,"m":1.016},{"r":13.054,"m":1.0}
],
"gv":[
{"g":"3","r":12.022,"m":2.4245},{"g":"3","r":12.044,"m":2.4215},
{"g":"2","r":12.685,"m":2.323},{"g":"2","r":12.715,"m":2.311},
{"g":"1","r":12.764,"m":2.149},{"g":"1","r":12.82,"m":2.1485},{"g":"1","r":12.875,"m":2.147},{"g":"1","r":12.925,"m":2.1445},{"g":"1","r":12.973,"m":2.14},{"g":"1","r":13.005,"m":2.136},{"g":"1","r":13.035,"m":2.13},{"g":"1","r":13.067,"m":2.118},
{"g":"0","r":12.628,"m":2.076},{"g":"0","r":12.7,"m":2.0745},{"g":"0","r":12.776,"m":2.072},{"g":"0","r":12.85,"m":2.068},{"g":"0","r":12.924,"m":2.061},{"g":"0","r":12.975,"m":2.054},{"g":"0","r":13.023,"m":2.044},{"g":"0","r":13.06,"m":2.036},{"g":"0","r":13.097,"m":2.025},{"g":"0","r":13.13,"m":2.013},{"g":"0","r":13.163,"m":1.998}
],
"leg":[{"g":"3","y":2.4818},{"g":"2","y":2.3655},{"g":"1","y":2.2493},{"g":"0","y":2.133}]
},
"resolve":{"axis":{"x":"independent","y":"independent"}},
"layer":[
{"data":{"name":"cells"},
 "mark":{"type":"point","shape":"M-0.03,0.03H2.03V-1.91H-0.03Z","size":182.8,"filled":true,"opacity":1,"strokeWidth":0},
 "encoding":{
  "x":{"field":"r","type":"quantitative","scale":{"domain":[9.09,15.858]},"axis":{"orient":"bottom","values":[10,11,12,13,14,15],"format":"d","title":null,"tickSize":-17,"labelPadding":50}},
  "y":{"field":"m","type":"quantitative","scale":{"domain":[1,2.6]},"axis":{"orient":"left","values":[1,1.2,1.4,1.6,1.8,2,2.2,2.4,2.6],"format":"~g","title":null,"tickSize":-17,"labelPadding":54}},
  "fill":{"field":"d","type":"quantitative","scale":{"domain":[1,2,3,4,5,6,7,8,9,10],"range":["#fffaf6","#fff0e4","#fee2ca","#fdd1ac","#fdbe8a","#fba96a","#f7944e","#f17e38","#ea6823","#e1520b"]},"legend":null}}},
{"data":{"values":[{"lo":2.05,"hi":2.34}]},"mark":{"type":"rect","color":"#f2f2f2"},
 "encoding":{"y":{"field":"lo","type":"quantitative","scale":{"domain":[1,2.6]},"axis":null},"y2":{"field":"hi"}}},
{"data":{"values":[{"lo":1.97,"hi":2.05}]},"mark":{"type":"rect","color":"#c6f5c6"},
 "encoding":{"y":{"field":"lo","type":"quantitative","scale":{"domain":[1,2.6]},"axis":null},"y2":{"field":"hi"}}},
{"data":{"values":[{"lo":1.93,"hi":1.97}]},"mark":{"type":"rect","color":"#d8eaf1"},
 "encoding":{"y":{"field":"lo","type":"quantitative","scale":{"domain":[1,2.6]},"axis":null},"y2":{"field":"hi"}}},
{"data":{"name":"mr"},"mark":{"type":"line","color":"#c0c0c0","strokeWidth":5},
 "encoding":{
  "x":{"field":"r","type":"quantitative","scale":{"domain":[9.09,15.858]},"axis":{"orient":"top","values":[10,11,12,13,14,15],"labels":false,"title":null,"tickSize":-17}},
  "y":{"field":"m","type":"quantitative","scale":{"domain":[1,2.6]},"axis":{"orient":"right","values":[1.2,1.4,1.6,1.8,2,2.2,2.4],"labels":false,"domain":false,"title":null,"tickSize":-10}},
  "order":{"field":"m","type":"quantitative","sort":"descending"}}},
{"data":{"name":"gv"},"mark":{"type":"line","strokeWidth":5},
 "encoding":{
  "x":{"field":"r","type":"quantitative","scale":{"domain":[9.09,15.858]},"axis":null},
  "y":{"field":"m","type":"quantitative","scale":{"domain":[1,2.6]},"axis":null},
  "stroke":{"field":"g","type":"nominal","scale":{"domain":["3","2","1","0"],"range":["#c25b6f","#e8ad35","#0b4a8f","#000000"]},"legend":null},
  "order":{"field":"m","type":"quantitative","sort":"descending"}}},
{"data":{"name":"leg"},"mark":{"type":"rule","strokeWidth":4,"yOffset":-14.7},
 "encoding":{
  "x":{"datum":10.666,"type":"quantitative","scale":{"domain":[9.09,15.858]},"axis":null},
  "x2":{"datum":11.568},
  "y":{"field":"y","type":"quantitative","scale":{"domain":[1,2.6]},"axis":null},
  "stroke":{"field":"g","type":"nominal","scale":{"domain":["3","2","1","0"],"range":["#c25b6f","#e8ad35","#0b4a8f","#000000"]},"legend":null}}},
{"data":{"name":"leg"},"mark":{"type":"text","text":"g","font":"Liberation Serif","fontStyle":"italic","fontSize":54,"align":"left","baseline":"alphabetic","color":"black"},
 "encoding":{"x":{"datum":9.253,"type":"quantitative","scale":{"domain":[9.09,15.858]},"axis":null},"y":{"field":"y","type":"quantitative","scale":{"domain":[1,2.6]},"axis":null}}},
{"data":{"name":"leg"},"mark":{"type":"text","text":"v","font":"Liberation Serif","fontStyle":"italic","fontSize":40,"align":"left","baseline":"alphabetic","dy":9,"color":"black"},
 "encoding":{"x":{"datum":9.438,"type":"quantitative","scale":{"domain":[9.09,15.858]},"axis":null},"y":{"field":"y","type":"quantitative","scale":{"domain":[1,2.6]},"axis":null}}},
{"data":{"name":"leg"},"mark":{"type":"text","text":"=","font":"DejaVu Serif","fontSize":52,"align":"left","baseline":"alphabetic","color":"black"},
 "encoding":{"x":{"datum":9.7707,"type":"quantitative","scale":{"domain":[9.09,15.858]},"axis":null},"y":{"field":"y","type":"quantitative","scale":{"domain":[1,2.6]},"axis":null}}},
{"data":{"name":"leg"},"mark":{"type":"text","font":"Liberation Serif","fontSize":54,"align":"left","baseline":"alphabetic","color":"black"},
 "encoding":{"text":{"field":"g"},"x":{"datum":10.1997,"type":"quantitative","scale":{"domain":[9.09,15.858]},"axis":null},"y":{"field":"y","type":"quantitative","scale":{"domain":[1,2.6]},"axis":null}}},
{"data":{"values":[{}]},"mark":{"type":"text","text":"NICER","font":"Liberation Sans","fontWeight":"bold","fontSize":48,"align":"left","baseline":"alphabetic","color":"#e07038"},
 "encoding":{"x":{"datum":10.274,"type":"quantitative","scale":{"domain":[9.09,15.858]},"axis":null},"y":{"datum":1.6173,"type":"quantitative","scale":{"domain":[1,2.6]},"axis":null}}},
{"data":{"values":[{}]},"mark":{"type":"text","text":"data","font":"Liberation Sans","fontWeight":"bold","fontSize":48,"align":"left","baseline":"alphabetic","color":"#e07038"},
 "encoding":{"x":{"datum":10.259,"type":"quantitative","scale":{"domain":[9.09,15.858]},"axis":null},"y":{"datum":1.4893,"type":"quantitative","scale":{"domain":[1,2.6]},"axis":null}}},
{"data":{"values":[{}]},"mark":{"type":"text","text":"N","font":"Liberation Sans","fontWeight":"bold","fontSize":50,"align":"left","baseline":"alphabetic","color":"black"},
 "encoding":{"x":{"datum":11.76,"type":"quantitative","scale":{"domain":[9.09,15.858]},"axis":null},"y":{"datum":2.669,"type":"quantitative","scale":{"domain":[1,2.6]},"axis":null}}},
{"data":{"values":[{}]},"mark":{"type":"text","text":"f","font":"Liberation Sans","fontWeight":"bold","fontSize":28,"align":"left","baseline":"alphabetic","color":"black"},
 "encoding":{"x":{"datum":12.035,"type":"quantitative","scale":{"domain":[9.09,15.858]},"axis":null},"y":{"datum":2.657,"type":"quantitative","scale":{"domain":[1,2.6]},"axis":null}}},
{"data":{"values":[{}]},"mark":{"type":"text","text":"= 2","font":"Liberation Sans","fontWeight":"bold","fontSize":50,"align":"left","baseline":"alphabetic","color":"black"},
 "encoding":{"x":{"datum":12.17,"type":"quantitative","scale":{"domain":[9.09,15.858]},"axis":null},"y":{"datum":2.669,"type":"quantitative","scale":{"domain":[1,2.6]},"axis":null}}},
{"data":{"values":[{}]},"mark":{"type":"text","text":"R","font":"Liberation Serif","fontStyle":"italic","fontSize":60,"align":"left","baseline":"alphabetic","color":"black"},
 "encoding":{"x":{"datum":11.87,"type":"quantitative","scale":{"domain":[9.09,15.858]},"axis":null},"y":{"datum":0.6906,"type":"quantitative","scale":{"domain":[1,2.6]},"axis":null}}},
{"data":{"values":[{}]},"mark":{"type":"text","text":"[km]","font":"Liberation Serif","fontSize":60,"align":"left","baseline":"alphabetic","color":"black"},
 "encoding":{"x":{"datum":12.2,"type":"quantitative","scale":{"domain":[9.09,15.858]},"axis":null},"y":{"datum":0.6906,"type":"quantitative","scale":{"domain":[1,2.6]},"axis":null}}},
{"data":{"values":[{}]},"mark":{"type":"text","text":"M/M","font":"Liberation Serif","fontStyle":"italic","fontSize":66,"angle":270,"align":"center","baseline":"alphabetic","color":"black"},
 "encoding":{"x":{"datum":8.1065,"type":"quantitative","scale":{"domain":[9.09,15.858]},"axis":null},"y":{"datum":1.765,"type":"quantitative","scale":{"domain":[1,2.6]},"axis":null}}},
{"data":{"values":[{}]},"mark":{"type":"text","text":"⊙","font":"DejaVu Sans","fontSize":60,"angle":270,"align":"center","baseline":"middle","color":"black"},
 "encoding":{"x":{"datum":8.1065,"type":"quantitative","scale":{"domain":[9.09,15.858]},"axis":null},"y":{"datum":1.94,"type":"quantitative","scale":{"domain":[1,2.6]},"axis":null}}}
]
}
